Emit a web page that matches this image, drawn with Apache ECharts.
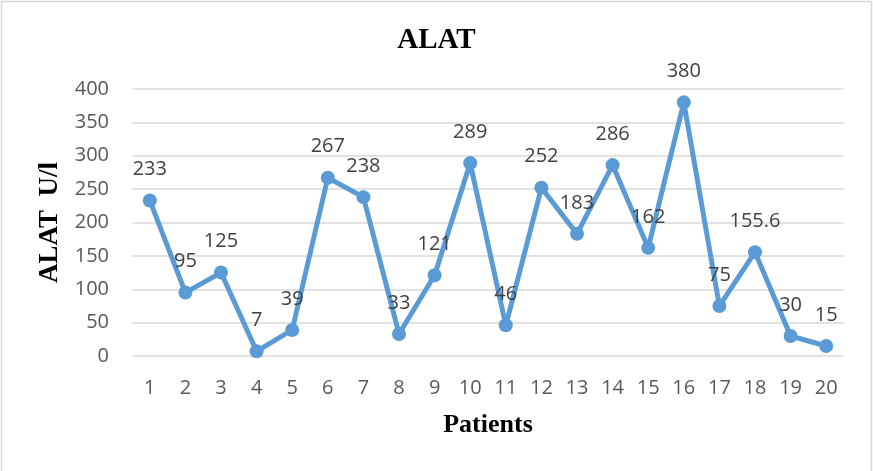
<!DOCTYPE html>
<html><head><meta charset="utf-8">
<script src="https://cdn.jsdelivr.net/npm/echarts@6/dist/echarts.min.js"></script>
<style>html,body{margin:0;padding:0;background:#fff}#c{width:873px;height:471px}</style>
</head><body><div id="c"></div>
<script>
var categories = ['1','2','3','4','5','6','7','8','9','10','11','12','13','14','15','16','17','18','19','20'];
var alatValues = [233,95,125,7,39,267,238,33,121,289,46,252,183,286,162,380,75,155.6,30,15];
var yTicks = [0,50,100,150,200,250,300,350,400];

var chart = echarts.init(document.getElementById('c'), null, {renderer:'canvas'});
var sans = '"Open Sans", sans-serif';
var serif = '"Liberation Serif", "Times New Roman", serif';
chart.setOption({
  animation:false,
  backgroundColor:'#fff',
  graphic:[{type:'rect', shape:{x:1.5,y:1.5,width:870,height:480}, style:{fill:'none', stroke:'#d9d9d9', lineWidth:1.5}, silent:true}],
  title:{text:'ALAT', left:'center', top:21, padding:5, textStyle:{fontFamily:serif, fontWeight:'bold', fontSize:29, color:'#000'}},
  grid:{left:132, right:29, top:89, bottom:115, containLabel:false},
  xAxis:{type:'category', data:categories, boundaryGap:true,
    name:'Patients', nameLocation:'middle', nameGap:56,
    nameTextStyle:{fontFamily:serif, fontWeight:'bold', fontSize:26, color:'#000'},
    axisLine:{show:false}, axisTick:{show:false},
    axisLabel:{fontFamily:sans, fontSize:20, color:'#595959', margin:22}},
  yAxis:{type:'value', min:yTicks[0], max:yTicks[yTicks.length-1], interval:50,
    name:'ALAT  U/l', nameLocation:'middle', nameGap:66,
    nameTextStyle:{fontFamily:serif, fontWeight:'bold', fontSize:27, color:'#000'},
    axisLine:{show:false}, axisTick:{show:false},
    axisLabel:{fontFamily:sans, fontSize:20, color:'#595959', margin:23},
    splitLine:{lineStyle:{color:'#d9d9d9', width:1.5}}},
  series:[{type:'line', data:alatValues, symbol:'circle', symbolSize:14,
    lineStyle:{color:'#5B9BD5', width:5}, itemStyle:{color:'#5B9BD5'},
    label:{show:true, position:'top', distance:14, fontFamily:sans, fontSize:20, color:'#404040'}}]
});
</script></body></html>
